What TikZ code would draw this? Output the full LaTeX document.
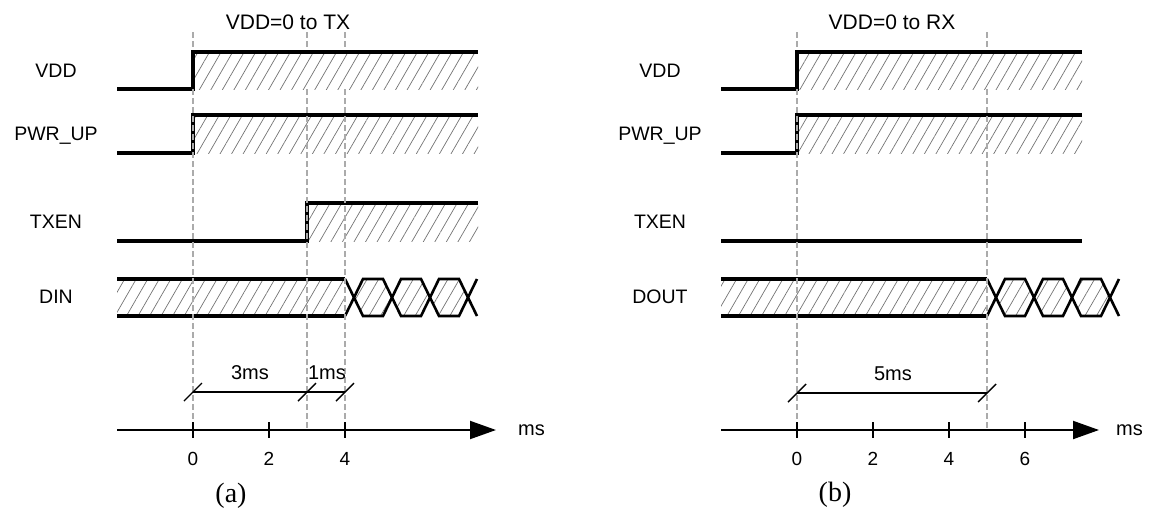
\documentclass[tikz,border=0pt]{standalone}
\usepackage{fontspec}
\setmainfont{Liberation Sans}
\newfontfamily\capserif{Liberation Serif}
\usetikzlibrary{patterns.meta,arrows.meta}
\tikzset{
  sig/.style={line width=3.2pt, line cap=butt, line join=miter},
  xsig/.style={line width=2.6pt, line join=miter},
  hatch/.style={pattern={Lines[angle=60,distance=10pt,line width=0.7pt]}, pattern color=black!55},
  guide/.style={draw=black!33, line width=1.3pt, dash pattern=on 6pt off 3pt},
  axisline/.style={line width=2pt, -{Triangle[length=26pt,width=18pt]}},
  tickmark/.style={line width=2pt},
  dimline/.style={line width=1.4pt},
  lbl/.style={font=\fontsize{19.5}{22}\selectfont, inner sep=0pt},
  ticklbl/.style={font=\fontsize{19}{22}\selectfont, inner sep=0pt},
  dimlbl/.style={font=\fontsize{20}{23}\selectfont, inner sep=0pt},
  titlelbl/.style={font=\fontsize{21}{24}\selectfont, inner sep=0pt},
  caplbl/.style={font=\capserif\fontsize{28}{32}\selectfont, inner sep=0pt}
}
\begin{document}
\begin{tikzpicture}[x=1pt,y=-1pt]
\useasboundingbox (0,0) rectangle (1152,515);

% ================= panel (a) =================
\node[titlelbl] (ta) at (288,22) {VDD=0 to TX};
% guides under VDD
\foreach \gx in {193,307,345} { \draw[guide] (\gx,32) -- (\gx,52); }
% VDD
\fill[white] (193,52) rectangle (478,89);
\path[hatch] (193,52) rectangle (478,89);
\draw[sig] (117,89) -- (193,89) -- (193,52) -- (478,52);
\node[lbl] (la1) at (56,71) {VDD};
% PWR_UP
\path[hatch] (193,115) rectangle (478,153);
\draw[sig] (117,153) -- (193,153) -- (193,115) -- (478,115);
\node[lbl] (la2) at (56,136) {PWR\_UP};
% TXEN
\path[hatch] (307,203) rectangle (478,241);
\draw[sig] (117,241) -- (307,241) -- (307,203) -- (478,203);
\node[lbl] (la3) at (56,222) {TXEN};
% DIN
\path[hatch] (117,279) rectangle (345,316);
\foreach \c in {354,392,430} {
  \path[hatch] (\c,297.5) -- (\c+9,279) -- (\c+29,279) -- (\c+38,297.5) -- (\c+29,316) -- (\c+9,316) -- cycle;
}
\draw[sig] (117,279) -- (345,279);
\draw[sig] (117,316) -- (345,316);
\draw[xsig] (345,279) -- (363,316) -- (383,316) -- (401,279) -- (421,279) -- (439,316) -- (459,316) -- (477,279);
\draw[xsig] (345,316) -- (363,279) -- (383,279) -- (401,316) -- (421,316) -- (439,279) -- (459,279) -- (477,316);
\node[lbl] (la4) at (56,297) {DIN};
% guides on top
\foreach \gx in {193,307,345} { \draw[guide] (\gx,89) -- (\gx,430); }
% dimension
\draw[dimline] (193,392) -- (345,392);
\foreach \gx in {193,307,345} { \draw[dimline] (\gx-9,401) -- (\gx+9,383); }
\node[dimlbl] (d3) at (250,373) {3ms};
\node[dimlbl] (d1) at (327,373) {1ms};
% axis
\draw[axisline] (117,430) -- (496,430);
\foreach \gx/\t in {193/0,269/2,345/4} {
  \draw[tickmark] (\gx,422) -- (\gx,438);
  \node[ticklbl] at (\gx,459) {\t};
}
\node[dimlbl, anchor=west] (msa) at (518,430) {ms};
\node[caplbl] (capa) at (231,496) {(a)};

% ================= panel (b) =================
\node[titlelbl] (tb) at (892,22) {VDD=0 to RX};
\foreach \gx in {797,987} { \draw[guide] (\gx,32) -- (\gx,52); }
% VDD
\fill[white] (797,52) rectangle (1082,89);
\path[hatch] (797,52) rectangle (1082,89);
\draw[sig] (721,89) -- (797,89) -- (797,52) -- (1082,52);
\node[lbl] (lb1) at (660,71) {VDD};
% PWR_UP
\path[hatch] (797,115) rectangle (1082,153);
\draw[sig] (721,153) -- (797,153) -- (797,115) -- (1082,115);
\node[lbl] (lb2) at (660,136) {PWR\_UP};
% TXEN
\draw[sig] (721,241) -- (1082,241);
\node[lbl] (lb3) at (660,222) {TXEN};
% DOUT
\path[hatch] (721,279) rectangle (987,316);
\foreach \c in {996,1034,1072} {
  \path[hatch] (\c,297.5) -- (\c+9,279) -- (\c+29,279) -- (\c+38,297.5) -- (\c+29,316) -- (\c+9,316) -- cycle;
}
\draw[sig] (721,279) -- (987,279);
\draw[sig] (721,316) -- (987,316);
\draw[xsig] (987,279) -- (1005,316) -- (1025,316) -- (1043,279) -- (1063,279) -- (1081,316) -- (1101,316) -- (1119,279);
\draw[xsig] (987,316) -- (1005,279) -- (1025,279) -- (1043,316) -- (1063,316) -- (1081,279) -- (1101,279) -- (1119,316);
\node[lbl] (lb4) at (660,297) {DOUT};
\foreach \gx in {797,987} { \draw[guide] (\gx,89) -- (\gx,430); }
% dimension
\draw[dimline] (797,393) -- (987,393);
\foreach \gx in {797,987} { \draw[dimline] (\gx-9,402) -- (\gx+9,384); }
\node[dimlbl] (d5) at (893,374) {5ms};
% axis
\draw[axisline] (721,430) -- (1099,430);
\foreach \gx/\t in {797/0,873/2,949/4,1025/6} {
  \draw[tickmark] (\gx,422) -- (\gx,438);
  \node[ticklbl] at (\gx,459) {\t};
}
\node[dimlbl, anchor=west] (msb) at (1116,430) {ms};
\node[caplbl] (capb) at (835,495) {(b)};
\end{tikzpicture}
\end{document}
